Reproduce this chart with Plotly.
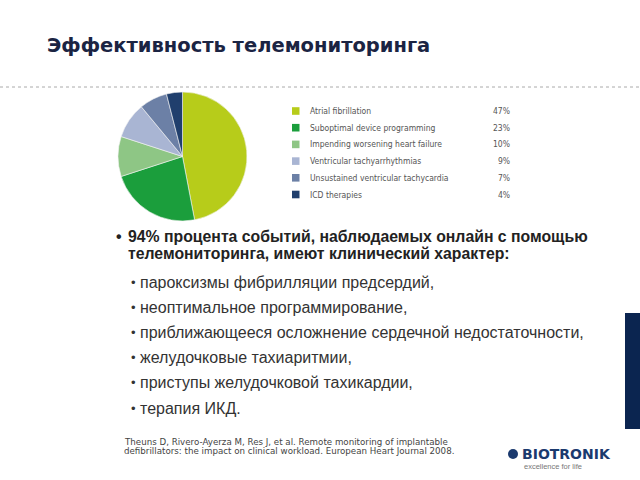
import plotly.graph_objects as go

# ---- data ----
labels = ["Atrial fibrillation", "Suboptimal device programming",
          "Impending worsening heart failure", "Ventricular tachyarrhythmias",
          "Unsustained ventricular tachycardia", "ICD therapies"]
values = [47, 23, 10, 9, 7, 4]
colors = ["#b7cc1a", "#1b9e3c", "#8ec685", "#a9b5d3", "#6c80a6", "#203f6d"]

title = "Эффективность телемониторинга"
main_bullet = ["94% процента событий, наблюдаемых онлайн с помощью",
               "телемониторинга, имеют клинический характер:"]
sub_bullets = ["пароксизмы фибрилляции предсердий,",
               "неоптимальное программирование,",
               "приближающееся осложнение сердечной недостаточности,",
               "желудочковые тахиаритмии,",
               "приступы желудочковой тахикардии,",
               "терапия ИКД."]
reference = ["Theuns D, Rivero-Ayerza M, Res J, et al. Remote monitoring of implantable",
             "defibrillators: the impact on clinical workload. European Heart Journal 2008."]

W, H = 640, 480
def px(x):
    return x / W
def py(y):
    return 1 - y / H

fig = go.Figure()
fig.add_trace(go.Pie(
    labels=labels, values=values, sort=False, direction="clockwise", rotation=0,
    marker=dict(colors=colors, line=dict(color="#f4f4f4", width=0.6)),
    textinfo="none", hoverinfo="label+percent", showlegend=False,
    domain=dict(x=[px(118), px(247)], y=[py(221), py(92)])
))

shapes = []
ann = []
# title
ann.append(dict(x=px(45), y=py(45), text="<b>" + title + "</b>", showarrow=False,
                xanchor="left", yanchor="middle",
                font=dict(family="DejaVu Sans", size=19.5, color="#1b2443")))
# dotted separator
shapes.append(dict(type="line", xref="paper", yref="paper", x0=0, x1=1, y0=py(87), y1=py(87),
                   line=dict(color="#aaaaaa", width=1, dash="dot")))
# legend
for i, (lab, v, c) in enumerate(zip(labels, values, colors)):
    yc = 111 + i * 16.7
    shapes.append(dict(type="rect", xref="paper", yref="paper",
                       x0=px(292), x1=px(299.5), y0=py(yc - 3.8), y1=py(yc + 3.8),
                       fillcolor=c, line=dict(width=0)))
    ann.append(dict(x=px(308), y=py(yc), text=lab, showarrow=False, xanchor="left",
                    yanchor="middle", font=dict(family="DejaVu Sans Condensed, DejaVu Sans", size=8.5, color="#555555")))
    ann.append(dict(x=px(512), y=py(yc), text=f"{v}%", showarrow=False, xanchor="right",
                    yanchor="middle", font=dict(family="DejaVu Sans Condensed, DejaVu Sans", size=8.5, color="#555555")))
# main bullet
ann.append(dict(x=px(114), y=py(236), text="<b>•</b>", showarrow=False, xanchor="left", yanchor="middle",
                font=dict(family="Arial, Liberation Sans", size=16, color="#222222")))
for i, line in enumerate(main_bullet):
    ann.append(dict(x=px(126), y=py(236 + i * 17.5), text="<b>" + line + "</b>", showarrow=False,
                    xanchor="left", yanchor="middle",
                    font=dict(family="Arial, Liberation Sans", size=15.8, color="#222222")))
# sub bullets
for i, line in enumerate(sub_bullets):
    yc = 282 + i * 25.2
    ann.append(dict(x=px(129), y=py(yc), text="•", showarrow=False, xanchor="left", yanchor="middle",
                    font=dict(family="Arial, Liberation Sans", size=13, color="#333333")))
    ann.append(dict(x=px(138), y=py(yc), text=line, showarrow=False, xanchor="left", yanchor="middle",
                    font=dict(family="Arial, Liberation Sans", size=16, color="#333333")))
# reference
for i, line in enumerate(reference):
    ann.append(dict(x=px(122), y=py(442 + i * 9), text=line, showarrow=False, xanchor="left",
                    yanchor="middle", font=dict(family="DejaVu Sans", size=8.7, color="#444444")))
# right navy bar
shapes.append(dict(type="rect", xref="paper", yref="paper", x0=px(625), x1=1, y0=py(429), y1=py(313),
                   fillcolor="#0b2550", line=dict(width=0)))
# logo
shapes.append(dict(type="circle", xref="paper", yref="paper", x0=px(508), x1=px(518),
                   y0=py(459), y1=py(449), fillcolor="#1b3a6e", line=dict(width=0)))
ann.append(dict(x=px(520), y=py(454), text="<b>BIOTRONIK</b>", showarrow=False, xanchor="left",
                yanchor="middle", font=dict(family="DejaVu Sans", size=14, color="#1b3a6e")))
ann.append(dict(x=px(522), y=py(466), text="excellence for life", showarrow=False, xanchor="left",
                yanchor="middle", font=dict(family="Arial, Liberation Sans", size=7.5, color="#777777")))

fig.update_layout(width=W, height=H, margin=dict(l=0, r=0, t=0, b=0),
                  paper_bgcolor="white", plot_bgcolor="white",
                  shapes=shapes, annotations=ann)
fig.write_html("out.html", config={"displayModeBar": False},
               post_script="document.body.style.margin='0';")
